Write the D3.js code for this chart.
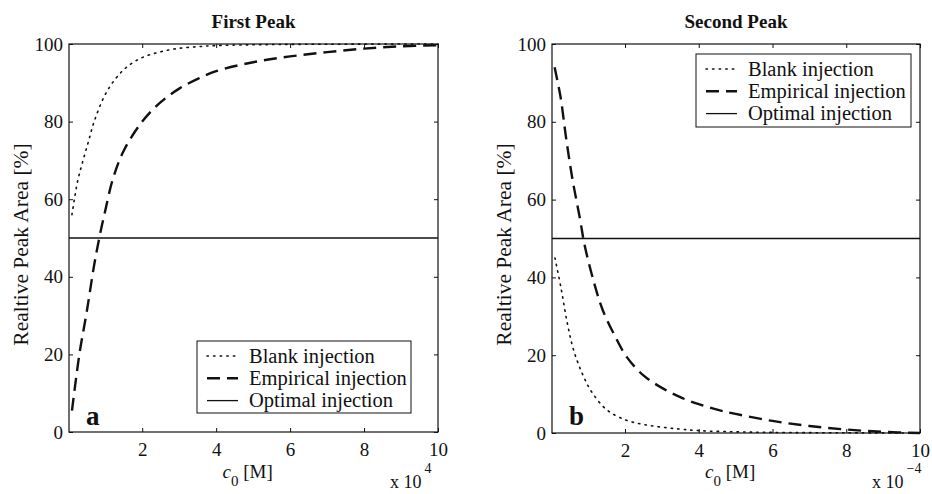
<!DOCTYPE html>
<html>
<head>
<meta charset="utf-8">
<script src="https://cdn.jsdelivr.net/npm/d3@7/dist/d3.min.js"></script>
<style>
  html, body { margin: 0; padding: 0; background: #fff; }
  svg text { font-family: "Liberation Serif", "Times New Roman", serif; fill: #111; }
</style>
</head>
<body>
<svg id="chart" width="932" height="494"></svg>
<script>
// Concentration axis (units of 1e-4 M) and response axis (%)
const xTicks = [2, 4, 6, 8, 10];
const yTicks = [0, 20, 40, 60, 80, 100];
const xDomain = [0.02, 10];
const yDomain = [0, 100];

// First peak: relative peak area vs. c0
const firstBlank = [
  [0.1, 56], [0.25, 64.5], [0.4, 70], [0.55, 75], [0.7, 80], [1.0, 87], [1.3, 91.3],
  [1.6, 94.2], [2.0, 96.5], [2.5, 98], [3.0, 98.9], [3.5, 99.3], [4.0, 99.6],
  [5.0, 99.8], [6.0, 99.9], [10, 100]
];
const firstEmpirical = [
  [0.1, 5.5], [0.3, 20], [0.5, 31], [0.7, 43], [0.86, 51], [1.0, 57], [1.2, 65],
  [1.5, 72.5], [2.0, 80], [2.5, 85], [3.0, 88.5], [3.5, 91], [4.0, 93], [5.0, 95.3],
  [6.0, 96.8], [7.0, 97.9], [8.0, 98.8], [9.0, 99.4], [10, 99.7]
];
const firstOptimal = [[0.02, 50], [10, 50]];

// Second peak: relative peak area vs. c0
const secondBlank = [
  [0.1, 45], [0.27, 37], [0.43, 28.5], [0.6, 21.5], [0.84, 15.3], [1.1, 10.5],
  [1.5, 6], [2.0, 3.4], [2.5, 2.2], [3.0, 1.5], [3.5, 1], [4.0, 0.6], [5.0, 0.3],
  [6.0, 0.15], [8.0, 0.05], [10, 0]
];
const secondEmpirical = [
  [0.09, 94], [0.25, 86.5], [0.4, 76], [0.57, 65.5], [0.78, 55], [0.9, 48.5],
  [1.15, 39], [1.4, 31.5], [1.75, 24.5], [2.05, 19.5], [2.5, 14.8], [3.0, 11.6],
  [3.5, 9.2], [4.0, 7.4], [4.5, 6], [5.0, 4.9], [6.0, 3.1], [7.0, 1.8], [8.0, 0.9],
  [9.0, 0.3], [10, 0]
];
const secondOptimal = [[0.02, 50], [10, 50]];

const seriesNames = ["Blank injection", "Empirical injection", "Optimal injection"];

const lineStyles = [
  { dash: "1.4,5.2", width: 1.6, cap: "round" },
  { dash: "13,7", width: 2.4, cap: "butt" },
  { dash: null, width: 1.3, cap: "butt" }
];

const svg = d3.select("#chart");

function drawPanel(opt) {
  const g = svg.append("g");
  const x = d3.scaleLinear().domain(xDomain).range([opt.left, opt.right]);
  const y = d3.scaleLinear().domain(yDomain).range([opt.bottom, opt.top]);
  const tick = 4;

  // plot frame
  g.append("rect")
    .attr("x", opt.left).attr("y", opt.top)
    .attr("width", opt.right - opt.left).attr("height", opt.bottom - opt.top)
    .attr("fill", "none").attr("stroke", "#111").attr("stroke-width", 1.2);

  // inward ticks on all four sides
  const ax = (axis, tx, ty) => {
    const a = g.append("g").attr("transform", `translate(${tx},${ty})`).call(axis);
    a.select(".domain").remove();
    a.selectAll(".tick line").attr("stroke", "#111").attr("stroke-width", 1);
    a.selectAll("text").style("font-family", '"Liberation Serif", serif').style("font-size", "19px").attr("fill", "#111");
    return a;
  };
  ax(d3.axisBottom(x).tickValues(xTicks).tickSize(-tick).tickPadding(11).tickFormat(d3.format("d")), 0, opt.bottom);
  ax(d3.axisTop(x).tickValues(xTicks).tickSize(-tick).tickFormat(""), 0, opt.top);
  ax(d3.axisLeft(y).tickValues(yTicks).tickSize(-tick).tickPadding(6).tickFormat(d3.format("d")), opt.left, 0);
  ax(d3.axisRight(y).tickValues(yTicks).tickSize(-tick).tickFormat(""), opt.right, 0);

  // curves
  const line = d3.line().x(d => x(d[0])).y(d => y(d[1])).curve(d3.curveCatmullRom.alpha(0.5));
  opt.series.forEach((data, i) => {
    const s = lineStyles[i];
    g.append("path").datum(data)
      .attr("d", line)
      .attr("fill", "none").attr("stroke", "#111")
      .attr("stroke-width", s.width)
      .attr("stroke-linecap", s.cap)
      .attr("stroke-dasharray", s.dash);
  });

  // title
  g.append("text").attr("x", (opt.left + opt.right) / 2).attr("y", 28)
    .attr("text-anchor", "middle").style("font-size", "19px").style("font-weight", "bold")
    .text(opt.title);

  // y label
  g.append("text")
    .attr("transform", `translate(${opt.left - 41.5},244.5) rotate(-90)`)
    .attr("text-anchor", "middle").style("font-size", "21.5px")
    .text("Realtive Peak Area [%]");

  // x label
  const xl = g.append("text").attr("x", (opt.left + opt.right) / 2 - 31).attr("y", 478)
    .style("font-size", "19px");
  xl.append("tspan").style("font-style", "italic").text("c");
  xl.append("tspan").attr("dy", 8).style("font-size", "15px").text("0");
  xl.append("tspan").attr("dy", -8).text(" [M]");

  // exponent
  const ex = g.append("text").attr("x", opt.right - 48).attr("y", 488)
    .style("font-size", "18px");
  ex.append("tspan").text("x 10");
  ex.append("tspan").attr("dx", 3).attr("dy", -15).style("font-size", "14px").text(opt.exponent);

  // panel letter
  g.append("text").attr("x", opt.left + 17).attr("y", 425)
    .style("font-size", "27px").style("font-weight", "bold").text(opt.letter);

  // legend
  const L = opt.legend;
  g.append("rect").attr("x", L.x).attr("y", L.y).attr("width", L.w).attr("height", L.h)
    .attr("fill", "#fff").attr("stroke", "#111").attr("stroke-width", 1);
  seriesNames.forEach((name, i) => {
    const cy = L.y + 15 + i * 22.3;
    const s = lineStyles[i];
    g.append("line")
      .attr("x1", L.x + 10).attr("x2", L.x + 41).attr("y1", cy).attr("y2", cy)
      .attr("stroke", "#111").attr("stroke-width", s.width)
      .attr("stroke-linecap", s.cap).attr("stroke-dasharray", s.dash);
    g.append("text").attr("x", L.x + 52).attr("y", cy + 6.5)
      .style("font-size", "20.5px").text(name);
  });
}

drawPanel({
  left: 69, right: 438, top: 44, bottom: 432,
  title: "First Peak", letter: "a", exponent: "4",
  series: [firstBlank, firstEmpirical, firstOptimal],
  legend: { x: 197, y: 341, w: 214, h: 72 }
});

drawPanel({
  left: 552, right: 920, top: 44, bottom: 433,
  title: "Second Peak", letter: "b", exponent: "\u22124",
  series: [secondBlank, secondEmpirical, secondOptimal],
  legend: { x: 696, y: 54, w: 215, h: 73 }
});
</script>
</body>
</html>
